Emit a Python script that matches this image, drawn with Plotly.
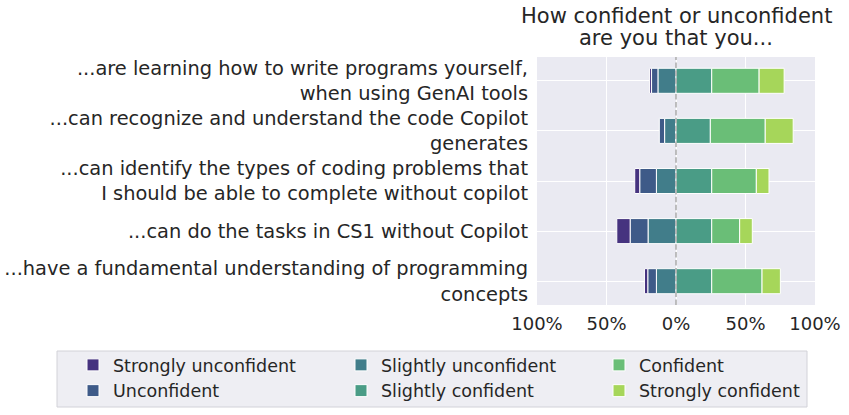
import plotly.graph_objects as go

categories = [
    "...are learning how to write programs yourself,<br>when using GenAI tools",
    "...can recognize and understand the code Copilot<br>generates",
    "...can identify the types of coding problems that<br>I should be able to complete without copilot",
    "...can do the tasks in CS1 without Copilot",
    "...have a fundamental understanding of programming<br>concepts",
]

strongly_unconfident = [1.4, 0.0, 3.6, 9.6, 2.4]
unconfident = [4.6, 3.8, 12.0, 12.9, 6.2]
slightly_unconfident = [13.0, 8.2, 14.1, 20.1, 14.1]
slightly_confident = [25.7, 24.7, 25.7, 25.7, 25.7]
confident = [34.1, 39.5, 32.1, 20.1, 36.2]
strongly_confident = [18.0, 20.1, 9.1, 9.1, 13.2]

tick_vals = [-100, -50, 0, 50, 100]
tick_text = ["100%", "50%", "0%", "50%", "100%"]

colors = {
    "Strongly unconfident": "#46337f",
    "Unconfident": "#3e5a88",
    "Slightly unconfident": "#417d8a",
    "Slightly confident": "#4a9c86",
    "Confident": "#6abe77",
    "Strongly confident": "#a6d65a",
}

# trace order = stacking order outward from zero; (legend column, rank in column)
series = [
    ("Slightly unconfident", slightly_unconfident, -1, "legend2", 1),
    ("Unconfident", unconfident, -1, "legend", 2),
    ("Strongly unconfident", strongly_unconfident, -1, "legend", 1),
    ("Slightly confident", slightly_confident, 1, "legend2", 2),
    ("Confident", confident, 1, "legend3", 1),
    ("Strongly confident", strongly_confident, 1, "legend3", 2),
]

FONT = "DejaVu Sans"
TXT = "#262626"

# plot-area geometry in pixels (for positioning things outside the plot)
L, R, T, B = 537, 34, 57, 110
W, H = 849, 415
PW, PH = W - L - R, H - T - B


def px_x(x):
    return (x - L) / PW


def px_y(y):
    return (H - B - y) / PH


fig = go.Figure()
for name, vals, sign, leg, rank in series:
    fig.add_trace(go.Bar(
        y=categories,
        x=[sign * v for v in vals],
        name=name,
        orientation="h",
        width=0.5,
        legend=leg,
        legendrank=rank,
        marker=dict(color=colors[name], line=dict(color="white", width=1)),
    ))

fig.add_shape(type="line", x0=0, x1=0, xref="x", y0=0, y1=1, yref="paper",
              line=dict(color="#ababab", width=1.5, dash="5.5px,2.4px"), layer="above")

# legend frame
fig.add_shape(type="rect", xref="paper", yref="paper",
              x0=px_x(57), x1=px_x(807), y0=px_y(351), y1=px_y(407),
              fillcolor="#eeeef3", line=dict(color="#d2d2d8", width=1), layer="below")

fig.add_annotation(text="How confident or unconfident", xref="paper", yref="paper",
                   x=0.5, y=px_y(15.5), xanchor="center", yanchor="middle",
                   showarrow=False, font=dict(family=FONT, size=21, color=TXT))
fig.add_annotation(text="are you that you...", xref="paper", yref="paper",
                   x=0.5, y=px_y(38.5), xanchor="center", yanchor="middle",
                   showarrow=False, font=dict(family=FONT, size=21, color=TXT))

leg_common = dict(
    orientation="v",
    xref="paper", yref="container",
    xanchor="left", yanchor="top",
    bgcolor="rgba(0,0,0,0)",
    borderwidth=0,
    font=dict(family=FONT, size=17.5, color=TXT),
    traceorder="normal",
    tracegroupgap=0,
)
leg_top = 1 - 347 / H

fig.update_layout(
    width=W, height=H,
    barmode="relative",
    margin=dict(l=L, r=R, t=T, b=B, autoexpand=False),
    paper_bgcolor="white",
    plot_bgcolor="#eaeaf2",
    font=dict(family=FONT, size=18, color=TXT),
    showlegend=True,
    legend=dict(x=px_x(113 - 40), y=leg_top, **leg_common),
    legend2=dict(x=px_x(381 - 40), y=leg_top, **leg_common),
    legend3=dict(x=px_x(639 - 40), y=leg_top, **leg_common),
    xaxis=dict(
        range=[-100, 100],
        tickvals=tick_vals,
        ticktext=tick_text,
        showgrid=True, gridcolor="white", gridwidth=1,
        zeroline=False,
        showline=False,
        ticks="",
        automargin=False,
        ticklabelstandoff=6,
        tickfont=dict(family=FONT, size=18, color=TXT),
    ),
    yaxis=dict(
        type="category",
        categoryorder="array",
        categoryarray=categories,
        range=[4.475, -0.475],
        showgrid=True, gridcolor="white", gridwidth=1,
        zeroline=False,
        showline=False,
        ticks="",
        automargin=False,
        ticklabelstandoff=8,
        tickfont=dict(family=FONT, size=19.4, color=TXT),
    ),
)

fig.write_html("out.html")
